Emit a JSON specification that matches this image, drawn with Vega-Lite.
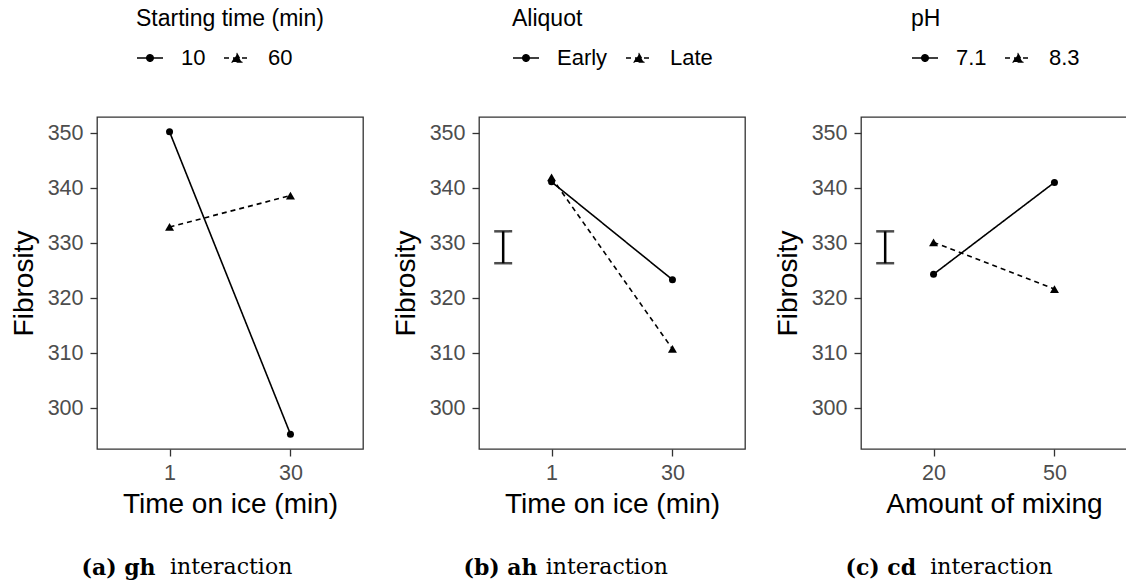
{
  "$schema": "https://vega.github.io/schema/vega-lite/v6.json",
  "background": "white",
  "padding": {"left": 9, "top": 7, "right": 0, "bottom": 0},
  "spacing": 27,
  "resolve": {"legend": {"shape": "independent", "strokeDash": "independent"}, "scale": {"shape": "independent", "strokeDash": "independent", "size": "independent"}},
  "datasets": {
    "a": [
      {"time_on_ice": "1", "starting_time": "10", "fibrosity": 350.3},
      {"time_on_ice": "30", "starting_time": "10", "fibrosity": 295.3},
      {"time_on_ice": "1", "starting_time": "60", "fibrosity": 333.0},
      {"time_on_ice": "30", "starting_time": "60", "fibrosity": 338.7}
    ],
    "b": [
      {"time_on_ice": "1", "aliquot": "Early", "fibrosity": 341.2},
      {"time_on_ice": "30", "aliquot": "Early", "fibrosity": 323.4},
      {"time_on_ice": "1", "aliquot": "Late", "fibrosity": 342.0},
      {"time_on_ice": "30", "aliquot": "Late", "fibrosity": 310.8}
    ],
    "c": [
      {"mixing": "20", "pH": "7.1", "fibrosity": 324.4},
      {"mixing": "50", "pH": "7.1", "fibrosity": 341.1},
      {"mixing": "20", "pH": "8.3", "fibrosity": 330.2},
      {"mixing": "50", "pH": "8.3", "fibrosity": 321.7}
    ],
    "bar": [
      {"lower": 326.4, "upper": 332.2}
    ]
  },
  "hconcat": [
    {
      "title": {"text": "interaction", "fontWeight": "normal", "dx": 73, "offset": -22},
      "resolve": {"legend": {"shape": "independent", "strokeDash": "independent"}},
      "vconcat": [
        {
          "width": 266,
          "height": 332,
          "title": {"text": "(a) gh"},
          "data": {"name": "a"},
          "layer": [
            {
              "mark": {"type": "line", "color": "black", "strokeWidth": 1.6},
              "encoding": {
                "x": {"field": "time_on_ice", "type": "ordinal", "sort": ["1", "30"], "scale": {"type": "point", "padding": 0.6}, "axis": {"title": "Time on ice (min)"}},
                "y": {"field": "fibrosity", "type": "quantitative", "scale": {"domain": [292.6, 353], "nice": false, "zero": false}, "axis": {"title": "Fibrosity", "values": [300, 310, 320, 330, 340, 350]}},
                "strokeDash": {"field": "starting_time", "type": "nominal", "scale": {"domain": ["10", "60"], "range": [[1, 0], [5, 4]]},
                  "legend": {"title": "Starting time (min)", "orient": "none", "legendX": 39, "legendY": -109, "direction": "horizontal",
                    "encoding": {"symbols": {"shape": {"value": {"expr": "datum.index === 0 ? 'M-1,0L1,0M-0.25,0A0.25,0.25,0,1,0,0.25,0A0.25,0.25,0,1,0,-0.25,0Z' : 'M-1,0L1,0M0,-0.3L0.35,0.3L-0.35,0.3Z'"}}, "fill": {"value": "black"}, "stroke": {"value": "black"}, "size": {"value": 676}, "strokeWidth": {"value": 1.5}}}}}
              }
            },
            {
              "mark": {"type": "point", "filled": true, "color": "black", "opacity": 1},
              "encoding": {
                "x": {"field": "time_on_ice", "type": "ordinal", "sort": ["1", "30"]},
                "y": {"field": "fibrosity", "type": "quantitative"},
                "shape": {"field": "starting_time", "type": "nominal", "scale": {"domain": ["60", "10"], "range": ["triangle-up", "circle"]}, "legend": null},
                "size": {"field": "starting_time", "type": "ordinal", "scale": {"domain": ["60", "10"], "range": [81, 49]}, "legend": null}
              }
            }
          ]
        }
      ]
    },
    {
      "title": {"text": "interaction", "fontWeight": "normal", "dx": 66.7, "offset": -22},
      "resolve": {"legend": {"shape": "independent", "strokeDash": "independent"}},
      "vconcat": [
        {
          "width": 266,
          "height": 332,
          "title": {"text": "(b) ah"},
          "resolve": {"scale": {"x": "independent"}},
          "layer": [
            {
              "data": {"name": "b"},
              "layer": [
                {
                  "mark": {"type": "line", "color": "black", "strokeWidth": 1.6},
                  "encoding": {
                    "x": {"field": "time_on_ice", "type": "ordinal", "sort": ["1", "30"], "scale": {"type": "point", "padding": 0.6}, "axis": {"title": "Time on ice (min)"}},
                    "y": {"field": "fibrosity", "type": "quantitative", "scale": {"domain": [292.6, 353], "nice": false, "zero": false}, "axis": {"title": "Fibrosity", "values": [300, 310, 320, 330, 340, 350]}},
                    "strokeDash": {"field": "aliquot", "type": "nominal", "scale": {"domain": ["Early", "Late"], "range": [[1, 0], [5, 4]]},
                      "legend": {"title": "Aliquot", "orient": "none", "legendX": 33, "legendY": -109, "direction": "horizontal",
                        "encoding": {"symbols": {"shape": {"value": {"expr": "datum.index === 0 ? 'M-1,0L1,0M-0.25,0A0.25,0.25,0,1,0,0.25,0A0.25,0.25,0,1,0,-0.25,0Z' : 'M-1,0L1,0M0,-0.3L0.35,0.3L-0.35,0.3Z'"}}, "fill": {"value": "black"}, "stroke": {"value": "black"}, "size": {"value": 676}, "strokeWidth": {"value": 1.5}}}}}
                  }
                },
                {
                  "mark": {"type": "point", "filled": true, "color": "black", "opacity": 1},
                  "encoding": {
                    "x": {"field": "time_on_ice", "type": "ordinal", "sort": ["1", "30"]},
                    "y": {"field": "fibrosity", "type": "quantitative"},
                    "shape": {"field": "aliquot", "type": "nominal", "scale": {"domain": ["Late", "Early"], "range": ["triangle-up", "circle"]}, "legend": null},
                    "size": {"field": "aliquot", "type": "ordinal", "scale": {"domain": ["Late", "Early"], "range": [81, 49]}, "legend": null}
                  }
                }
              ]
            },
            {
              "data": {"name": "bar"},
              "mark": {"type": "errorbar", "color": "black", "thickness": 2.5, "ticks": {"size": 18}},
              "encoding": {
                "x": {"datum": 0.6, "type": "quantitative", "scale": {"domain": [0.4, 2.6]}, "axis": null},
                "y": {"field": "lower", "type": "quantitative", "title": "Fibrosity"},
                "y2": {"field": "upper"}
              }
            }
          ]
        }
      ]
    },
    {
      "title": {"text": "interaction", "fontWeight": "normal", "dx": 69.3, "offset": -22},
      "resolve": {"legend": {"shape": "independent", "strokeDash": "independent"}},
      "vconcat": [
        {
          "width": 266,
          "height": 332,
          "title": {"text": "(c) cd"},
          "resolve": {"scale": {"x": "independent"}},
          "layer": [
            {
              "data": {"name": "c"},
              "layer": [
                {
                  "mark": {"type": "line", "color": "black", "strokeWidth": 1.6},
                  "encoding": {
                    "x": {"field": "mixing", "type": "ordinal", "sort": ["20", "50"], "scale": {"type": "point", "padding": 0.6}, "axis": {"title": "Amount of mixing"}},
                    "y": {"field": "fibrosity", "type": "quantitative", "scale": {"domain": [292.6, 353], "nice": false, "zero": false}, "axis": {"title": "Fibrosity", "values": [300, 310, 320, 330, 340, 350]}},
                    "strokeDash": {"field": "pH", "type": "nominal", "scale": {"domain": ["7.1", "8.3"], "range": [[1, 0], [5, 4]]},
                      "legend": {"title": "pH", "orient": "none", "legendX": 50, "legendY": -109, "direction": "horizontal",
                        "encoding": {"symbols": {"shape": {"value": {"expr": "datum.index === 0 ? 'M-1,0L1,0M-0.25,0A0.25,0.25,0,1,0,0.25,0A0.25,0.25,0,1,0,-0.25,0Z' : 'M-1,0L1,0M0,-0.3L0.35,0.3L-0.35,0.3Z'"}}, "fill": {"value": "black"}, "stroke": {"value": "black"}, "size": {"value": 676}, "strokeWidth": {"value": 1.5}}}}}
                  }
                },
                {
                  "mark": {"type": "point", "filled": true, "color": "black", "opacity": 1},
                  "encoding": {
                    "x": {"field": "mixing", "type": "ordinal", "sort": ["20", "50"]},
                    "y": {"field": "fibrosity", "type": "quantitative"},
                    "shape": {"field": "pH", "type": "nominal", "scale": {"domain": ["8.3", "7.1"], "range": ["triangle-up", "circle"]}, "legend": null},
                    "size": {"field": "pH", "type": "ordinal", "scale": {"domain": ["8.3", "7.1"], "range": [81, 49]}, "legend": null}
                  }
                }
              ]
            },
            {
              "data": {"name": "bar"},
              "mark": {"type": "errorbar", "color": "black", "thickness": 2.5, "ticks": {"size": 18}},
              "encoding": {
                "x": {"datum": 0.6, "type": "quantitative", "scale": {"domain": [0.4, 2.6]}, "axis": null},
                "y": {"field": "lower", "type": "quantitative", "title": "Fibrosity"},
                "y2": {"field": "upper"}
              }
            }
          ]
        }
      ]
    }
  ],
  "config": {
    "view": {"stroke": "#333333", "strokeWidth": 1.3},
    "axis": {"domain": false, "grid": false, "labelFont": "Liberation Sans", "titleFont": "Liberation Sans", "labelFontSize": 21.5, "titleFontSize": 28, "titleFontWeight": "normal", "labelColor": "#4d4d4d", "titleColor": "black", "tickColor": "#333333", "tickWidth": 1.3, "tickSize": 7},
    "axisX": {"labelAngle": 0, "labelPadding": 6, "titlePadding": 7},
    "axisY": {"labelPadding": 7, "titlePadding": 9},
    "legend": {"titleFont": "Liberation Sans", "labelFont": "Liberation Sans", "titleFontSize": 23, "labelFontSize": 22, "titleFontWeight": "normal", "titleColor": "black", "labelColor": "black", "symbolSize": 676, "symbolStrokeWidth": 1.5, "labelOffset": 17, "columnPadding": 15, "titlePadding": 13, "padding": 0, "titleLimit": 400},
    "title": {"orient": "bottom", "anchor": "start", "frame": "group", "dx": -15.5, "offset": 39, "font": "DejaVu Serif", "fontSize": 22, "fontWeight": "bold", "color": "black"}
  }
}
